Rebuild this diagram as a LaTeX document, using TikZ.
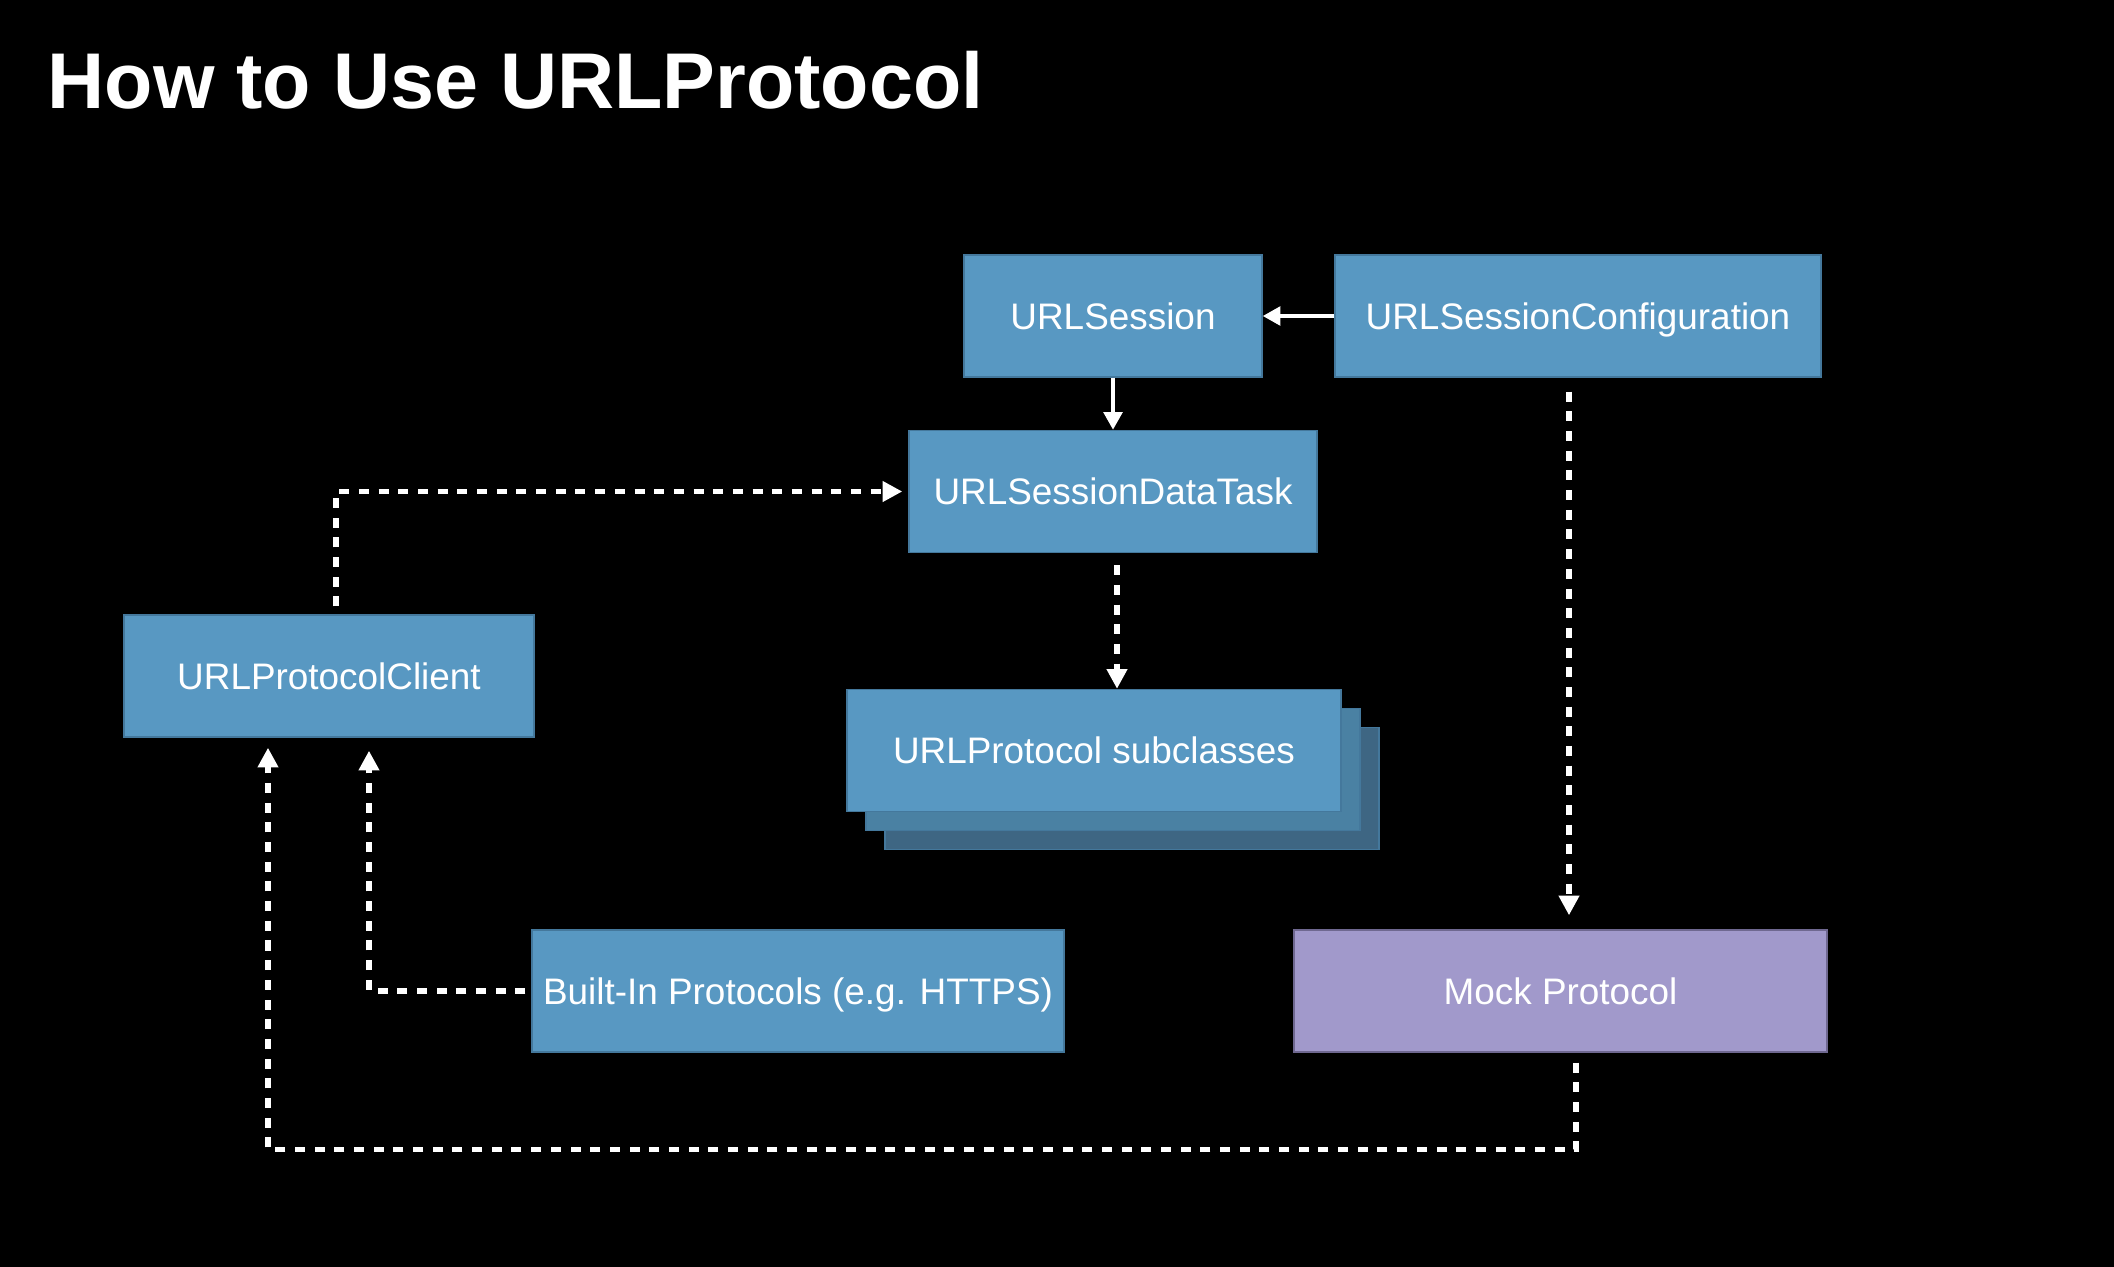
\documentclass[tikz,border=0pt]{standalone}
\usepackage{fontspec}
\setmainfont{Liberation Sans}
\usetikzlibrary{arrows.meta}

\definecolor{boxblue}{HTML}{5898C2}
\definecolor{boxedge}{HTML}{44789C}
\definecolor{stackmid}{HTML}{4A81A3}
\definecolor{stackback}{HTML}{3E6683}
\definecolor{mockpurple}{HTML}{A199CB}
\definecolor{mockedge}{HTML}{6F6890}

\begin{document}
\begin{tikzpicture}[x=0.1mm, y=-0.1mm,
    box/.style={rectangle, fill=boxblue, draw=boxedge, line width=0.4pt, text=white,
        font=\fontsize{10.5}{12}\selectfont, minimum height=12.2mm, inner sep=0pt,
        text height=7.5pt, text depth=0pt},
    solidarrow/.style={draw=white, line width=1.2pt, -{Triangle[length=5pt,width=5.2pt]}},
    dasharrow/.style={draw=white, line width=1.5pt, dash pattern=on 2.85pt off 2.75pt,
        -{Triangle[length=5.6pt,width=5.6pt]}}]

    \useasboundingbox (0,0) rectangle (2114,1266);
    \fill[black] (-20,-20) rectangle (2134,1286);

    \draw(47,108) node[anchor=base west, inner sep=0pt, text=white,
        font=\bfseries\fontsize{22.5}{27}\selectfont] (title) {How to Use URLProtocol};

    \draw(1113,316) node[box, minimum width=29.8mm] (sess) {URLSession};
    \draw(1578,316) node[box, minimum width=48.6mm] (conf) {URLSessionConfiguration};
    \draw(1113,491.5) node[box, minimum width=40.8mm] (task) {URLSessionDataTask};
    \draw(329,676) node[box, minimum width=41mm] (client) {URLProtocolClient};

    % stacked subclasses
    \draw(1132,788.5) node[box, fill=stackback, minimum width=49.4mm] (sub3) {};
    \draw(1113,769.5) node[box, fill=stackmid, minimum width=49.4mm] (sub2) {};
    \draw(1094,750.5) node[box, minimum width=49.4mm] (sub) {URLProtocol subclasses};

    \draw(798,991) node[box, minimum width=53.2mm] (builtin) {Built-In Protocols (e.g. HTTPS)};
    \draw(1560.5,991) node[box, fill=mockpurple, draw=mockedge, minimum width=53.3mm] (mock) {Mock Protocol};

    \draw[solidarrow] (conf) -- (sess);
    \draw[solidarrow] (sess) -- (task);
    \draw[dasharrow, shorten <=1.2mm] ([xshift=0.4mm]task.south) -- ([xshift=0.4mm]task.south |- sub.north);
    \draw[dasharrow, shorten <=1.4mm, shorten >=1.4mm] ([xshift=-0.9mm]conf.south) -- ([xshift=-0.9mm]conf.south |- mock.north);
    \draw[dasharrow, shorten <=0.8mm, shorten >=0.6mm] ([xshift=0.7mm]client.north) |- (task.west);
    \draw[dasharrow, shorten <=0.6mm, shorten >=1.3mm] (builtin.west) -| ([xshift=4mm]client.south);
    \draw[dasharrow, shorten <=1mm, shorten >=1mm] ([xshift=1.55mm]mock.south) -- ++(0,97) -| ([xshift=-6.1mm]client.south);

\end{tikzpicture}
\end{document}
